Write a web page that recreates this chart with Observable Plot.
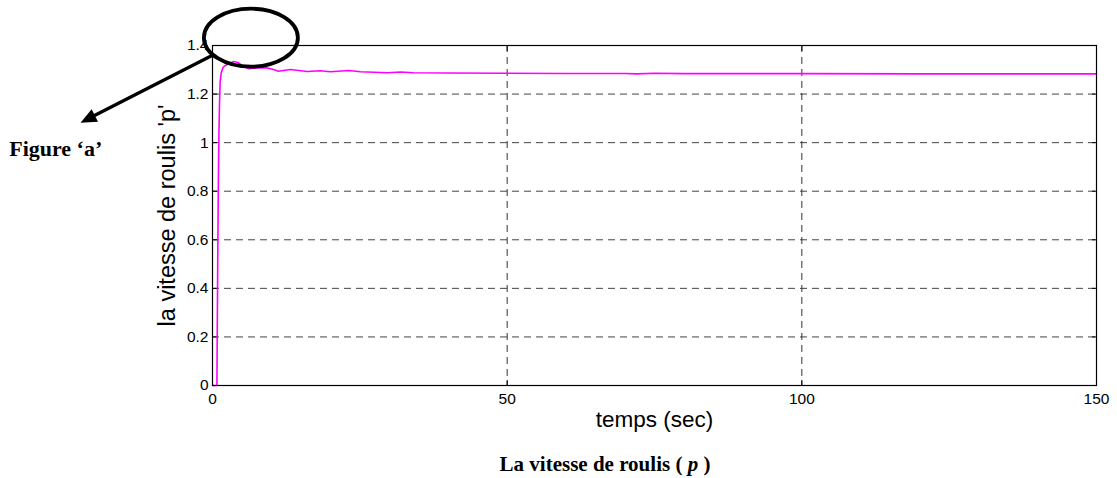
<!DOCTYPE html>
<html>
<head>
<meta charset="utf-8">
<script src="https://cdn.jsdelivr.net/npm/d3@7"></script>
<script src="https://cdn.jsdelivr.net/npm/@observablehq/plot@0.6"></script>
<style>
  html, body { margin: 0; padding: 0; background: #fff; }
  #wrap { position: relative; width: 1117px; height: 478px; overflow: hidden; }
  #caption { position: absolute; top: 452px; left: 605px; transform: translateX(-50%);
    font: bold 21px "Liberation Serif", "Times New Roman", serif; white-space: nowrap; color: #000; line-height: 24px; }
</style>
</head>
<body>
<div id="wrap"><div id="chart"></div><div id="caption">La vitesse de roulis ( <i>p</i> )</div></div>
<script>
// Data
const time = [0, 0.75, 0.8, 0.9, 1.0, 1.1, 1.2, 1.3, 1.5, 1.8, 2.2, 2.8, 3.6, 4.3, 5.2, 6.1, 7.5, 9, 10.2, 11.2, 13.2, 16.1, 18.3, 20, 23.1, 25.1, 29.7, 31.9, 34.1, 40, 50, 60, 70, 72, 75, 80, 100, 120, 150];
const rollRate = [0, 0, 0.2, 0.55, 0.85, 1.05, 1.17, 1.25, 1.29, 1.31, 1.318, 1.325, 1.334, 1.33, 1.315, 1.304, 1.308, 1.309, 1.302, 1.294, 1.301, 1.293, 1.296, 1.292, 1.297, 1.292, 1.288, 1.291, 1.288, 1.287, 1.286, 1.285, 1.285, 1.283, 1.286, 1.284, 1.284, 1.283, 1.283];
const xTicks = [0, 50, 100, 150];
const yTicks = [0, 0.2, 0.4, 0.6, 0.8, 1.0, 1.2, 1.4];
const xGrid = [50, 100];
const yGrid = [0.2, 0.4, 0.6, 0.8, 1.0, 1.2];
const xLabel = "temps (sec)";
const yLabel = "la vitesse de roulis 'p'";
const annotationText = "Figure \u2018a\u2019";

const data = time.map((t, i) => ({t, p: rollRate[i]}));
const fmt = d => String(+d.toFixed(1));
const sans = "Liberation Sans, Arial, Helvetica, sans-serif";

const chart = Plot.plot({
  width: 1117,
  height: 440,
  marginTop: 45,
  marginBottom: 55,
  marginLeft: 212,
  marginRight: 21,
  style: {fontFamily: sans, fontSize: "15px", color: "#000", background: "#fff", overflow: "visible"},
  x: {domain: [0, 150], label: null},
  y: {domain: [0, 1.4], label: null},
  marks: [
    Plot.ruleY(yGrid, {stroke: "#444", strokeDasharray: "7,5", strokeWidth: 1}),
    Plot.ruleX(xGrid, {stroke: "#333", strokeDasharray: "7,5", strokeWidth: 1}),
    Plot.axisX({anchor: "bottom", ticks: xTicks, tickSize: -5, tickPadding: 12, tickFormat: fmt, fontSize: 15.5}),
    Plot.axisX({anchor: "top", ticks: xTicks, tickSize: -5, tickFormat: () => ""}),
    Plot.axisY({anchor: "left", ticks: yTicks, tickSize: -5, tickPadding: 9, tickFormat: fmt, fontSize: 15.5}),
    Plot.axisY({anchor: "right", ticks: yTicks, tickSize: -5, tickFormat: () => ""}),
    Plot.line(data, {x: "t", y: "p", stroke: "#ff00ff", strokeWidth: 1.6}),
    Plot.frame({stroke: "#000", strokeWidth: 1.2}),
    Plot.text([xLabel], {frameAnchor: "bottom", textAnchor: "middle", text: d => d, dy: 41, fontSize: 22.5, fontFamily: sans}),
    Plot.text([yLabel], {frameAnchor: "left", textAnchor: "middle", text: d => d, rotate: -90, dx: -45, fontSize: 23.5, fontFamily: sans}),
    Plot.text([annotationText], {x: -26.6, y: 0.972, text: d => d, fontSize: 22, fontWeight: "bold", fontFamily: "Liberation Serif, Times New Roman, serif"})
  ]
});

document.getElementById("chart").appendChild(chart);

// Annotation: arrow and ellipse, anchored through the scales
const sx = chart.scale("x"), sy = chart.scale("y");
const svg = d3.select(chart);
const ax0 = sx.apply(0), ay0 = sy.apply(1.357);
const ax1 = sx.apply(-22.3), ay1 = sy.apply(1.08);
const dxA = ax1 - ax0, dyA = ay1 - ay0, len = Math.hypot(dxA, dyA);
const ux = dxA / len, uy = dyA / len;
const headL = 16, headW = 7;
const bx = ax1 - ux * headL, by = ay1 - uy * headL;
svg.append("line")
  .attr("x1", ax0).attr("y1", ay0).attr("x2", bx + ux * 2).attr("y2", by + uy * 2)
  .attr("stroke", "#000").attr("stroke-width", 3.3);
svg.append("polygon")
  .attr("points", [[ax1, ay1], [bx - uy * headW, by + ux * headW], [bx + uy * headW, by - ux * headW]].map(p => p.join(",")).join(" "))
  .attr("fill", "#000");
svg.append("ellipse")
  .attr("cx", sx.apply(6.6))
  .attr("cy", sy.apply(1.43))
  .attr("rx", 47)
  .attr("ry", 29)
  .attr("fill", "none")
  .attr("stroke", "#000")
  .attr("stroke-width", 3.8);
</script>
</body>
</html>
